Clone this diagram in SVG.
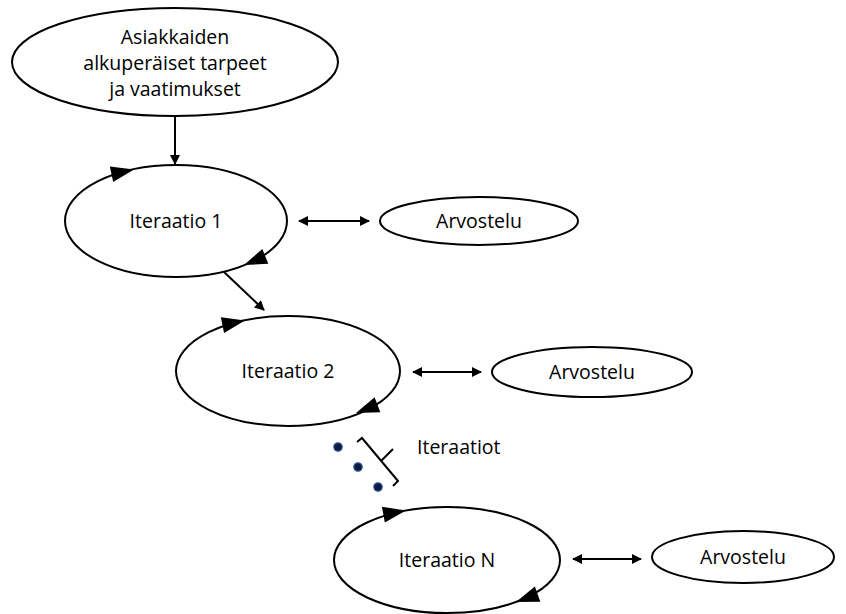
<svg xmlns="http://www.w3.org/2000/svg" width="846" height="614" viewBox="0 0 846 614">
<style>
.node ellipse{fill:#fff;stroke:#000;stroke-width:2}
text{font-family:"Open Sans","Liberation Sans",sans-serif;font-size:19.5px;fill:#000;text-anchor:middle}
.conn line,.conn path{stroke:#000;stroke-width:2;fill:none}
.ah{fill:#000}
.dot{fill:#0b1a40;stroke:#2f5597;stroke-width:1.2}
</style>
<defs>
<marker id="arr" viewBox="0 0 10 10" refX="9" refY="5" markerWidth="5.5" markerHeight="5" orient="auto-start-reverse" markerUnits="strokeWidth">
<path d="M0,0 L10,5 L0,10 Z" fill="#000"/>
</marker>
<path id="tri" d="M0,0 L-23,-8 L-23,8 Z"/>
</defs>

<g id="start" class="node">
<ellipse cx="175" cy="62" rx="163" ry="54"/>
<text x="175" y="44">Asiakkaiden</text>
<text x="175" y="70">alkuperäiset tarpeet</text>
<text x="175" y="96">ja vaatimukset</text>
</g>

<g id="iter1" class="node">
<ellipse cx="176" cy="221" rx="111" ry="56"/>
<use href="#tri" class="ah" transform="translate(134,169.5) rotate(-12)"/>
<use href="#tri" class="ah" transform="translate(244,265) rotate(158)"/>
<text x="176" y="228">Iteraatio 1</text>
</g>

<g id="review1" class="node">
<ellipse cx="479" cy="221" rx="99" ry="24"/>
<text x="479" y="228">Arvostelu</text>
</g>

<g id="iter2" class="node">
<ellipse cx="288" cy="371" rx="112" ry="55"/>
<use href="#tri" class="ah" transform="translate(245,320.5) rotate(-11.5)"/>
<use href="#tri" class="ah" transform="translate(356,413) rotate(159)"/>
<text x="288" y="378">Iteraatio 2</text>
</g>

<g id="review2" class="node">
<ellipse cx="592" cy="372" rx="100" ry="25"/>
<text x="592" y="379">Arvostelu</text>
</g>

<g id="iterN" class="node">
<ellipse cx="447" cy="560" rx="113" ry="53"/>
<use href="#tri" class="ah" transform="translate(406,510.5) rotate(-10.5)"/>
<use href="#tri" class="ah" transform="translate(516,602) rotate(160)"/>
<text x="447" y="567">Iteraatio N</text>
</g>

<g id="reviewN" class="node">
<ellipse cx="743" cy="557" rx="91" ry="26"/>
<text x="743" y="564">Arvostelu</text>
</g>

<g id="iterations">
<circle class="dot" cx="338" cy="447" r="4.2"/>
<circle class="dot" cx="358" cy="467" r="4.2"/>
<circle class="dot" cx="378" cy="487" r="4.2"/>
<path d="M357,442 L362,438 L398,481 L393,486 M381,461 L393,449" fill="none" stroke="#000" stroke-width="2"/>
<text x="417" y="454" style="text-anchor:start">Iteraatiot</text>
</g>

<g id="connectors" class="conn">
<line x1="175" y1="116" x2="175" y2="164" marker-end="url(#arr)"/>
<line x1="224" y1="272" x2="264" y2="310" marker-end="url(#arr)"/>
<line x1="299" y1="221" x2="369" y2="221" marker-start="url(#arr)" marker-end="url(#arr)"/>
<line x1="413" y1="372" x2="481" y2="372" marker-start="url(#arr)" marker-end="url(#arr)"/>
<line x1="573" y1="559" x2="641" y2="559" marker-start="url(#arr)" marker-end="url(#arr)"/>
</g>
</svg>
